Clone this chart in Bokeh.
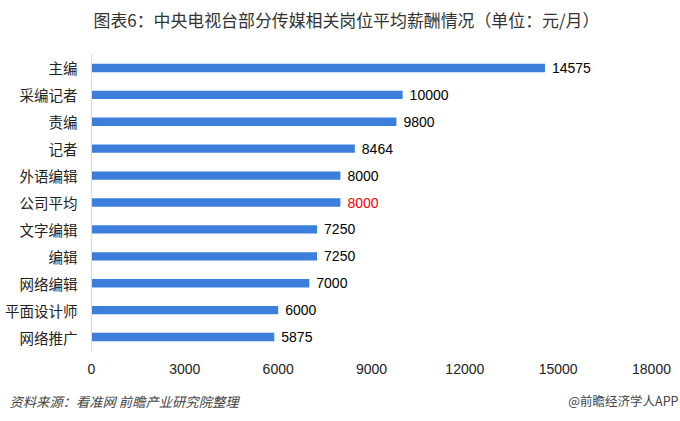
from bokeh.plotting import figure
from bokeh.models import ColumnDataSource, Range1d, FactorRange, Title, FixedTicker, LinearAxis
from bokeh.core.properties import value
from bokeh.embed import file_html
from bokeh.resources import INLINE

categories = ["主编", "采编记者", "责编", "记者", "外语编辑", "公司平均",
              "文字编辑", "编辑", "网络编辑", "平面设计师", "网络推广"]
salaries = [14575, 10000, 9800, 8464, 8000, 8000, 7250, 7250, 7000, 6000, 5875]
label_colors = ["#000000"] * 5 + ["#ff0000"] + ["#000000"] * 5
x_ticks = [0, 3000, 6000, 9000, 12000, 15000, 18000]

title_text = "图表6：中央电视台部分传媒相关岗位平均薪酬情况（单位：元/月）"
source_text = "资料来源：看准网 前瞻产业研究院整理"
credit_text = "@前瞻经济学人APP"

CJK = "Noto Sans CJK SC"
LAT = "Liberation Sans"

src = ColumnDataSource(dict(cat=categories, val=salaries,
                            txt=[str(v) for v in salaries], tc=label_colors))

p = figure(width=680, height=421, output_backend="svg", toolbar_location=None,
           x_range=Range1d(0, 18000),
           y_range=FactorRange(factors=list(reversed(categories)), range_padding=0),
           min_border_left=91, min_border_right=29, min_border_top=54, min_border_bottom=71)
p.outline_line_color = None
p.background_fill_color = "white"
p.border_fill_color = "white"
p.grid.visible = False

p.hbar(y="cat", right="val", left=0, height=0.31, source=src,
       fill_color="#3b7edb", line_color=None)

p.text(x="val", y="cat", text="txt", source=src, text_color="tc",
       x_offset=7, text_baseline="middle", text_align="left",
       text_font=value(LAT), text_font_size="14px")

# y axis
ya = p.yaxis[0]
ya.axis_line_color = "#d9d9d9"
ya.major_tick_line_color = None
ya.minor_tick_line_color = None
ya.major_tick_out = 0
ya.major_tick_in = 0
ya.major_label_text_font = CJK
ya.major_label_text_font_size = "14.5px"
ya.major_label_text_color = "#222222"
ya.major_label_standoff = 14

# x axis
xa = p.xaxis[0]
xa.ticker = FixedTicker(ticks=x_ticks)
xa.axis_line_color = None
xa.major_tick_line_color = None
xa.minor_tick_line_color = None
xa.major_tick_out = 0
xa.major_tick_in = 0
xa.major_label_text_font = LAT
xa.major_label_text_font_size = "14px"
xa.major_label_text_color = "#222222"
xa.major_label_standoff = 13


def spacer(size):
    # blank axis (one white tick on white, empty label) that only reserves room in a side panel
    return LinearAxis(ticker=FixedTicker(ticks=[9000]), major_label_overrides={9000: ""},
                      axis_line_color=None, major_tick_line_color="white",
                      minor_tick_line_color=None, major_tick_out=size, major_tick_in=0,
                      minor_tick_out=0, minor_tick_in=0, major_label_standoff=0,
                      major_label_text_font_size="1px")


p.add_layout(spacer(23), "above")
p.add_layout(Title(text=title_text, align="left", offset=2, vertical_align="bottom",
                   standoff=0, text_font=CJK, text_font_size="16.9px",
                   text_color="#333333", text_font_style="normal"), "above")

p.add_layout(spacer(13), "below")
p.add_layout(Title(text=source_text, align="left", offset=-82, vertical_align="bottom",
                   standoff=0, text_font=CJK, text_font_size="13.3px",
                   text_color="#444444", text_font_style="italic"), "below")
p.add_layout(Title(text=credit_text, align="right", offset=-27, vertical_align="top",
                   standoff=-40, text_font=CJK, text_font_size="12.5px",
                   text_color="#444444", text_font_style="normal"), "below")

open("out.html", "w").write(file_html(p, INLINE))
